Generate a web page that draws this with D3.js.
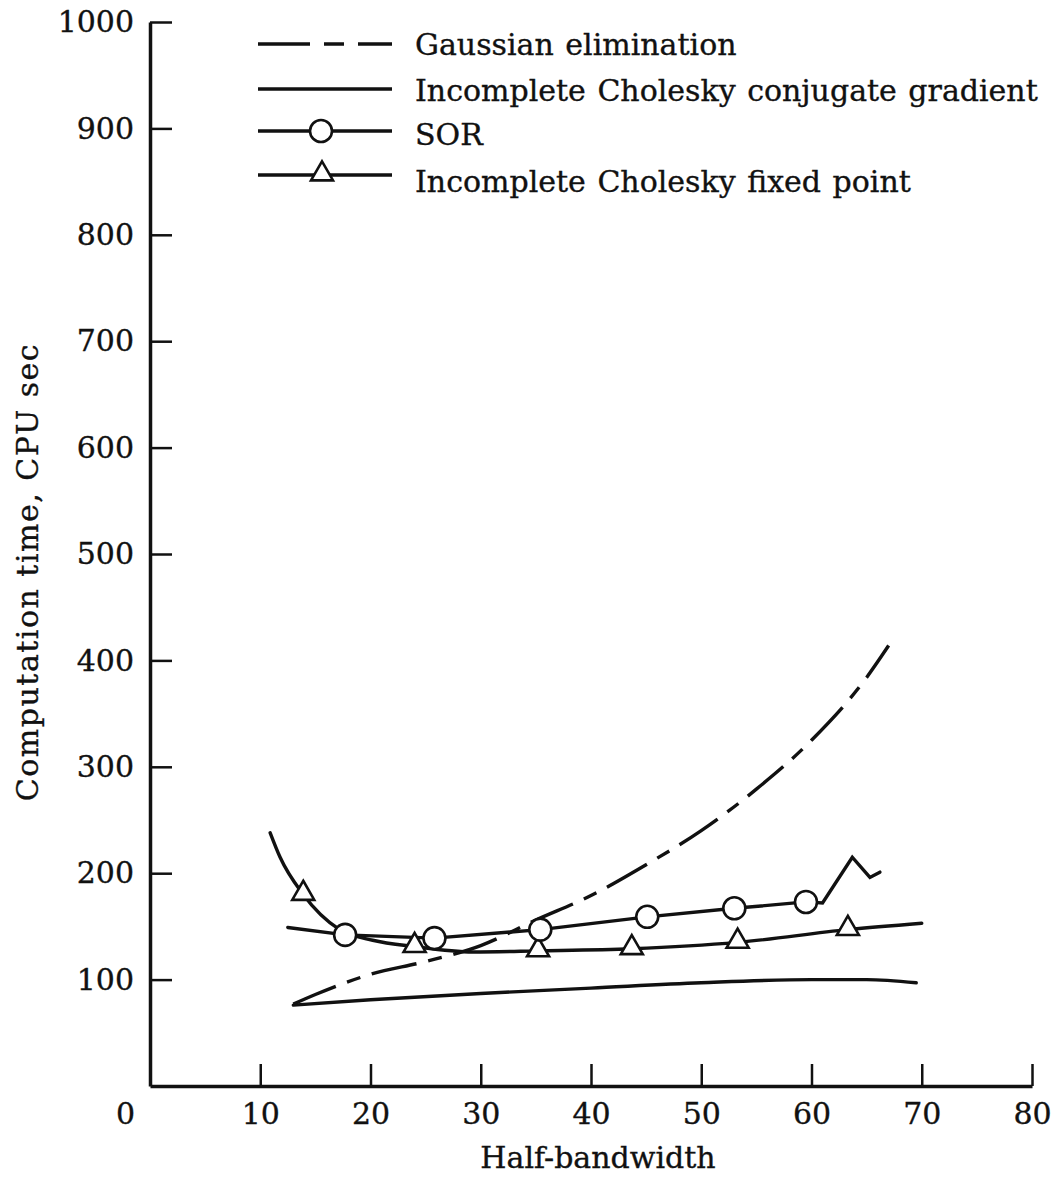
<!DOCTYPE html>
<html>
<head>
<meta charset="utf-8">
<script src="https://cdn.jsdelivr.net/npm/d3@7"></script>
<style>
  html, body { margin: 0; padding: 0; background: #fff; }
  svg { display: block; }
  text { font-family: "DejaVu Serif", serif; fill: #111; stroke: #111; stroke-width: 0.35px; }
</style>
</head>
<body>
<svg id="chart" width="1057" height="1202"></svg>
<script>
// Half-bandwidth vs. computation time (CPU sec) for four solvers
const gaussX = [13, 15, 20, 25, 30, 35, 40, 45, 50, 55, 60, 65, 67];
const gaussY = [77, 86, 105, 117, 132, 156, 179, 208, 240, 279, 325, 384, 414];

const iccgX = [13, 20, 30, 40, 50, 60, 65, 69.5];
const iccgY = [76, 81, 87, 92, 97, 100, 100, 97];

const sorX = [12.5, 17.7, 25.8, 35.4, 45.1, 53, 59.5, 61, 63.7, 65.3, 66.2];
const sorY = [149, 142, 139, 147, 159, 167, 173, 172, 215, 196, 201];
const sorMarkX = [17.7, 25.8, 35.4, 45.1, 53, 59.5];
const sorMarkY = [142, 139, 147, 159, 167, 173];

const icfpX = [10.9, 11.8, 13.9, 17.2, 20.2, 24, 29.3, 35.2, 43.7, 53.3, 63.3, 70];
const icfpY = [238, 215, 180, 147, 137, 131, 126, 127, 129, 135, 147, 153];
const icfpMarkX = [13.9, 24, 35.2, 43.7, 53.3, 63.3];
const icfpMarkY = [180, 131, 127, 129, 135, 147];

const xTicks = [0, 10, 20, 30, 40, 50, 60, 70, 80];
const yTicks = [100, 200, 300, 400, 500, 600, 700, 800, 900, 1000];

const legendLabels = [
  "Gaussian elimination",
  "Incomplete Cholesky conjugate gradient",
  "SOR",
  "Incomplete Cholesky fixed point"
];

const svg = d3.select("#chart");
const x = d3.scaleLinear().domain([0, 80]).range([150, 1032]);
const y = d3.scaleLinear().domain([0, 1000]).range([1086, 22]);

const ink = "#111";
const fontSize = 30;

// axes: ticks point inward
const xAxis = d3.axisBottom(x).tickValues(xTicks).tickFormat(d3.format("d"))
  .tickSizeInner(-22).tickSizeOuter(0).tickPadding(17);
const gx = svg.append("g").attr("transform", "translate(0,1086)").call(xAxis);
gx.select(".domain").attr("stroke", ink).attr("stroke-width", 3.5);
gx.selectAll(".tick line").attr("stroke", ink).attr("stroke-width", 2.5);
gx.selectAll(".tick").filter(d => d === 0).select("line").remove();
gx.selectAll(".tick text").attr("font-size", fontSize).attr("font-family", "DejaVu Serif").attr("fill", ink);
gx.selectAll(".tick").filter(d => d === 0).select("text").attr("x", -25);

const yAxis = d3.axisLeft(y).tickValues(yTicks).tickFormat(d3.format("d"))
  .tickSizeInner(-22).tickSizeOuter(0).tickPadding(16);
const gy = svg.append("g").attr("transform", "translate(150,0)").call(yAxis);
gy.select(".domain").attr("stroke", ink).attr("stroke-width", 3.5);
gy.selectAll(".tick line").attr("stroke", ink).attr("stroke-width", 2.5);
gy.selectAll(".tick text").attr("font-size", fontSize).attr("font-family", "DejaVu Serif").attr("fill", ink);

// axis titles
svg.append("text")
  .attr("transform", `translate(38,${572}) rotate(-90)`)
  .attr("text-anchor", "middle")
  .attr("font-size", fontSize)
  .attr("letter-spacing", 1.5)
  .text("Computation time, CPU sec");

svg.append("text")
  .attr("x", 598).attr("y", 1168)
  .attr("text-anchor", "middle")
  .attr("font-size", fontSize)
  .text("Half-bandwidth");

const zip = (xs, ys) => xs.map((v, i) => [v, ys[i]]);
const smooth = d3.line().x(d => x(d[0])).y(d => y(d[1])).curve(d3.curveMonotoneX);
const straight = d3.line().x(d => x(d[0])).y(d => y(d[1]));

const plot = svg.append("g").attr("fill", "none").attr("stroke", ink).attr("stroke-width", 3.4).attr("stroke-linecap", "round");

plot.append("path").attr("d", smooth(zip(iccgX, iccgY)));
plot.append("path").attr("d", smooth(zip(gaussX, gaussY))).attr("stroke-dasharray", "46,12,14,12").attr("stroke-linecap", "butt");
plot.append("path").attr("d", straight(zip(sorX, sorY)));
plot.append("path").attr("d", smooth(zip(icfpX, icfpY)));

// markers
const tri = d3.symbol().type(d3.symbolTriangle).size(210);
svg.append("g").selectAll("path")
  .data(zip(icfpMarkX, icfpMarkY))
  .join("path")
  .attr("d", tri)
  .attr("transform", d => `translate(${x(d[0])},${y(d[1]) - 1})`)
  .attr("fill", "#fff").attr("stroke", ink).attr("stroke-width", 2.6);

svg.append("g").selectAll("circle")
  .data(zip(sorMarkX, sorMarkY))
  .join("circle")
  .attr("cx", d => x(d[0])).attr("cy", d => y(d[1])).attr("r", 11)
  .attr("fill", "#fff").attr("stroke", ink).attr("stroke-width", 2.6);

// legend
const legendY = [44, 89, 131, 175];
const textY = [55, 101, 145, 192];
const leg = svg.append("g");
legendLabels.forEach((label, i) => {
  const line = leg.append("line")
    .attr("x1", 258).attr("x2", 392)
    .attr("y1", legendY[i]).attr("y2", legendY[i])
    .attr("stroke", ink).attr("stroke-width", 3.4);
  if (i === 0) line.attr("stroke-dasharray", "52,14,20,14");
  if (i === 2) {
    leg.append("circle").attr("cx", 321).attr("cy", legendY[i]).attr("r", 11)
      .attr("fill", "#fff").attr("stroke", ink).attr("stroke-width", 2.6);
  }
  if (i === 3) {
    leg.append("path").attr("d", tri).attr("transform", `translate(322,${legendY[i] - 1})`)
      .attr("fill", "#fff").attr("stroke", ink).attr("stroke-width", 2.6);
  }
  leg.append("text").attr("x", 415).attr("y", textY[i]).attr("font-size", fontSize)
    .attr("word-spacing", 2).text(label);
});
</script>
</body>
</html>
